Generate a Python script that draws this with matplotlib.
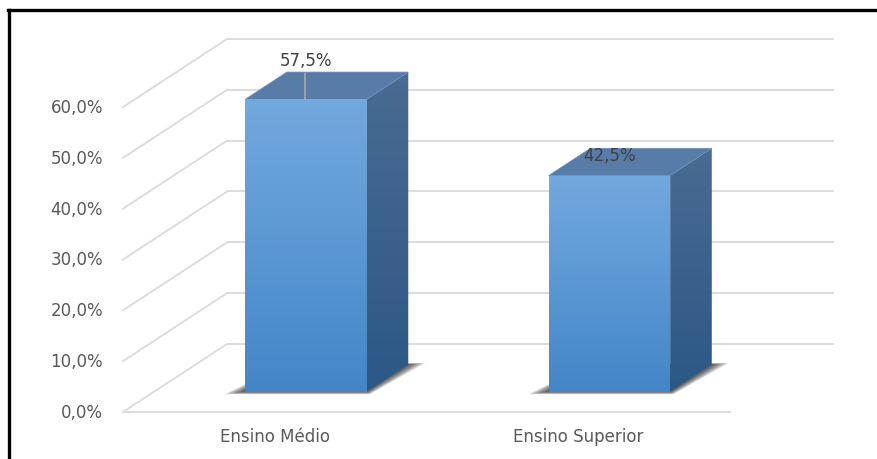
import numpy as np
import matplotlib.pyplot as plt
from matplotlib.patches import Polygon
from matplotlib.lines import Line2D
from matplotlib.colors import LinearSegmentedColormap

categories = ['Ensino Médio', 'Ensino Superior']
values = [57.5, 42.5]
value_labels = ['57,5%', '42,5%']
ticks = [0, 10, 20, 30, 40, 50, 60]
tick_labels = ['0,0%', '10,0%', '20,0%', '30,0%', '40,0%', '50,0%', '60,0%']

# oblique projection of the depth axis, in data units
DX, DY = 0.3427, 13.38
W = 0.4            # bar width (category units)
D0, D1 = 0.3, 0.7  # bar depth span (0 = front, 1 = back wall)

grid_c = '#dcdcdc'
text_c = '#595959'


def p(x, y, d):
    return (x + d * DX, y + d * DY)


fig = plt.figure(figsize=(8.77, 4.6), dpi=100)
ax = fig.add_axes([0, 0, 1, 1])
ax.axis('off')

n = len(categories)

# back wall gridlines + left wall diagonals
for t in ticks:
    bx0, by = p(0, t, 1)
    bx1, _ = p(n, t, 1)
    ax.plot([bx0, bx1], [by, by], color=grid_c, lw=1.4, zorder=1,
            solid_capstyle='butt')
    ax.plot([0, bx0], [t, by], color=grid_c, lw=1.4, zorder=1)
# front edge of floor
ax.plot([0, n], [0, 0], color=grid_c, lw=1.4, zorder=1)

front_cmap = LinearSegmentedColormap.from_list('front', ['#4386c8', '#72a9de'])
side_cmap = LinearSegmentedColormap.from_list('side', ['#2b5886', '#4a6b92'])
grad = np.linspace(0, 1, 256).reshape(-1, 1)

for i, v in enumerate(values):
    x0 = i + 0.5 - W / 2
    x1 = i + 0.5 + W / 2

    # soft floor shadow, darkest close to the base
    for k in range(10):
        f = (10 - k) / 10
        el = 0.056 * f
        er = 0.05 * f
        sh = [p(x0 - el, 0, D0 - 0.04 * f), p(x1 + er * 0.5, 0, D0 - 0.04 * f),
              p(x1 + er, 0, D1 + 0.02 * f), p(x0, 0, D1 + 0.02 * f)]
        ax.add_patch(Polygon(sh, closed=True, facecolor='black', edgecolor='none',
                             alpha=0.09, zorder=2))

    # right side face
    side = [p(x1, 0, D0), p(x1, 0, D1), p(x1, v, D1), p(x1, v, D0)]
    side_poly = Polygon(side, closed=True, facecolor='none', edgecolor='none',
                        transform=ax.transData)
    ax.add_patch(side_poly)
    sx = [q[0] for q in side]
    sy = [q[1] for q in side]
    im = ax.imshow(grad, extent=(min(sx), max(sx), min(sy), max(sy)),
                   origin='lower', cmap=side_cmap, aspect='auto', zorder=3)
    im.set_clip_path(side_poly)

    # top face
    top = [p(x0, v, D0), p(x1, v, D0), p(x1, v, D1), p(x0, v, D1)]
    ax.add_patch(Polygon(top, closed=True, facecolor='#567ca7',
                         edgecolor='#6a8fb8', lw=0.6, zorder=4))

    # front face
    front = [p(x0, 0, D0), p(x1, 0, D0), p(x1, v, D0), p(x0, v, D0)]
    front_poly = Polygon(front, closed=True, facecolor='none', edgecolor='none',
                         transform=ax.transData)
    ax.add_patch(front_poly)
    fx = [q[0] for q in front]
    fy = [q[1] for q in front]
    im = ax.imshow(grad, extent=(min(fx), max(fx), min(fy), max(fy)),
                   origin='lower', cmap=front_cmap, aspect='auto', zorder=5)
    im.set_clip_path(front_poly)

    # category label at the front of the floor
    ax.text(i + 0.5, -4.7, categories[i], ha='center', va='center',
            fontsize=12, color=text_c, zorder=6)

# data labels
label_dy = [7.7, 4.1]
for i, v in enumerate(values):
    cx, cy = p(i + 0.5, v, D0)
    ax.text(cx, cy + label_dy[i], value_labels[i], ha='center', va='center',
            fontsize=12, color='#404040', zorder=7)
# leader line for the first label
cx, cy = p(0.5, values[0], D0)
ax.plot([cx - 0.003, cx - 0.003], [cy, cy + 5.0], color='#a6a6a6', lw=1.3, zorder=6)

# value axis labels
for t, lab in zip(ticks, tick_labels):
    ax.text(-0.066, t, lab, ha='right', va='center', fontsize=12, color=text_c)

ax.set_xlim(-0.4053, 2.4843)
ax.set_ylim(-9.25, 81.25)

# chart border (left and top edges)
fig.add_artist(Line2D([8.5 / 877, 8.5 / 877], [0, 1 - 10.5 / 460], color='black',
                      lw=2.4, transform=fig.transFigure))
fig.add_artist(Line2D([7.5 / 877, 1], [1 - 10.5 / 460, 1 - 10.5 / 460], color='black',
                      lw=2.4, transform=fig.transFigure))

fig.savefig('out.png', dpi=100)
